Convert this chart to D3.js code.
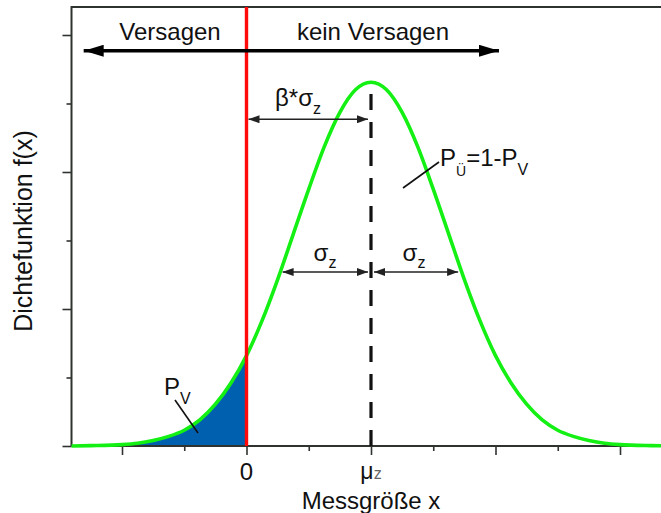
<!DOCTYPE html>
<html>
<head>
<meta charset="utf-8">
<script src="https://cdn.jsdelivr.net/npm/d3@7"></script>
<style>
  html, body { margin: 0; padding: 0; background: #fff; }
  svg { display: block; font-family: "Liberation Sans", Arial, sans-serif; }
</style>
</head>
<body>
<svg id="chart" width="661" height="513"></svg>
<script>
// Density curve f(x) sampled along the measured quantity x
const curveX = [-2.81, -2.5, -2, -1.75, -1.5, -1.25, -1, -0.75, -0.5, -0.25, 0,
  0.25, 0.5, 0.75, 1, 1.25, 1.5, 1.75, 2, 2.25, 2.5, 2.75, 3, 3.25, 3.5, 3.75,
  4, 4.25, 4.5, 4.75, 5, 5.25, 5.5, 5.75, 6, 6.5, 7];
const curveY = [0.00, 0.005, 0.02, 0.04, 0.08, 0.14, 0.23, 0.38, 0.61, 0.92, 1.32,
  1.83, 2.43, 3.09, 3.75, 4.37, 4.87, 5.20, 5.31, 5.20, 4.87, 4.37, 3.75, 3.09, 2.43, 1.83,
  1.32, 0.92, 0.61, 0.38, 0.23, 0.14, 0.08, 0.04, 0.02, 0.005, 0.00];

// Axis ticks
const xMajorTicks = [-2, 0, 2, 4, 6];
const xMinorTicks = [-1, 1, 3, 5];
const xTickLabels = { 0: "0", 2: "μ" };
const yMajorTicks = [0, 2, 4, 6];
const yMinorTicks = [1, 3, 5];

// Key quantities
const limitX = 0;        // failure limit
const muZ = 2;           // mean
const peakY = 5.31;      // f(μz)
const sigmaLeftX = 0.58; // ends of the σ arrows
const sigmaRightX = 3.40;
const sigmaArrowY = 2.54;
const betaArrowY = 4.77;
const regionArrowY = 5.77;
const regionArrowFrom = -2.68;
const regionArrowTo = 4.12;

const svg = d3.select("#chart");
const W = 661, H = 513;
const x = d3.scaleLinear().domain([-2, 6]).range([122, 620]);
const y = d3.scaleLinear().domain([0, 6]).range([446, 35]);
const x0 = x.invert(71.5), yTop = y.invert(7);

const frame = "#2f332f";

// arrowhead markers
const defs = svg.append("defs");
function marker(id, len, half, color) {
  defs.append("marker").attr("id", id)
    .attr("markerUnits", "userSpaceOnUse")
    .attr("viewBox", `0 ${-half} ${len} ${2 * half}`)
    .attr("refX", len).attr("refY", 0)
    .attr("markerWidth", len).attr("markerHeight", 2 * half)
    .attr("orient", "auto-start-reverse")
    .append("path").attr("d", `M0,${-half}L${len},0L0,${half}Z`).attr("fill", color);
}
marker("bigHead", 20, 6, "#000");
marker("smallHead", 11, 4, "#222");

// area under the curve left of the limit (failure probability)
const pts = curveX.map((d, i) => [d, curveY[i]]);
const leftPts = pts.filter(p => p[0] <= limitX);
svg.append("path")
  .datum(leftPts)
  .attr("fill", "#0060b0")
  .attr("d", d3.area().x(p => x(p[0])).y0(y(0)).y1(p => y(p[1])).curve(d3.curveMonotoneX));

// axes
const gx = svg.append("g").attr("transform", `translate(0,${y(0)})`);
gx.call(d3.axisBottom(x).tickValues(xMajorTicks).tickSize(9).tickFormat(() => ""));
gx.call(g => g.select(".domain").remove());
const gxm = svg.append("g").attr("transform", `translate(0,${y(0)})`)
  .call(d3.axisBottom(x).tickValues(xMinorTicks).tickSize(5).tickFormat(() => ""));
gxm.select(".domain").remove();
const gy = svg.append("g").attr("transform", `translate(71.5,0)`)
  .call(d3.axisLeft(y).tickValues(yMajorTicks).tickSize(9).tickFormat(() => ""));
gy.select(".domain").remove();
const gym = svg.append("g").attr("transform", `translate(71.5,0)`)
  .call(d3.axisLeft(y).tickValues(yMinorTicks).tickSize(5).tickFormat(() => ""));
gym.select(".domain").remove();
svg.selectAll(".tick line").attr("stroke", frame).attr("stroke-width", 1.6);

// frame
svg.append("path")
  .attr("d", `M${x(x0)},${y(0)}V${y(yTop)}H${W + 5}`)
  .attr("fill", "none").attr("stroke", frame).attr("stroke-width", 2);
svg.append("line")
  .attr("x1", x(x0)).attr("x2", W + 5).attr("y1", y(0)).attr("y2", y(0))
  .attr("stroke", frame).attr("stroke-width", 2);

// density curve
svg.append("path")
  .datum(pts)
  .attr("fill", "none").attr("stroke", "#14f014").attr("stroke-width", 3.6)
  .attr("d", d3.line().x(p => x(p[0])).y(p => y(p[1])).curve(d3.curveMonotoneX));

// limit line
svg.append("line")
  .attr("x1", x(limitX)).attr("x2", x(limitX)).attr("y1", y(yTop)).attr("y2", y(0))
  .attr("stroke", "#ff0a0a").attr("stroke-width", 3.4);

// mean line (dashed)
svg.append("line")
  .attr("x1", x(muZ)).attr("x2", x(muZ)).attr("y1", y(0)).attr("y2", y(peakY) + 3)
  .attr("stroke", "#111").attr("stroke-width", 3.2).attr("stroke-dasharray", "16,12");

// region arrow
svg.append("line")
  .attr("x1", x(regionArrowFrom) + 4).attr("x2", x(regionArrowTo) - 4)
  .attr("y1", y(regionArrowY)).attr("y2", y(regionArrowY))
  .attr("stroke", "#000").attr("stroke-width", 3.5)
  .attr("marker-start", "url(#bigHead)").attr("marker-end", "url(#bigHead)");

// dimension arrows
function dimArrow(xa, xb, yv) {
  svg.append("line")
    .attr("x1", xa).attr("x2", xb).attr("y1", y(yv)).attr("y2", y(yv))
    .attr("stroke", "#222").attr("stroke-width", 1.6)
    .attr("marker-start", "url(#smallHead)").attr("marker-end", "url(#smallHead)");
}
dimArrow(x(limitX) + 2, x(muZ) - 3, betaArrowY);
dimArrow(x(sigmaLeftX), x(muZ) - 3, sigmaArrowY);
dimArrow(x(muZ) + 3, x(sigmaRightX), sigmaArrowY);

// leader lines
svg.append("line").attr("x1", 403).attr("y1", 188).attr("x2", 439).attr("y2", 162)
  .attr("stroke", "#111").attr("stroke-width", 1.6);
svg.append("line").attr("x1", 175).attr("y1", 400).attr("x2", 198).attr("y2", 433)
  .attr("stroke", "#111").attr("stroke-width", 1.6);

// texts
const FS = 24;
function label(tx, ty, anchor) {
  return svg.append("text").attr("x", tx).attr("y", ty)
    .attr("text-anchor", anchor || "start").attr("font-size", FS).attr("fill", "#111");
}
label(170, 40, "middle").text("Versagen");
label(373, 40, "middle").text("kein Versagen");

let t = label(298, 106, "middle");
t.append("tspan").text("β*σ");
t.append("tspan").attr("font-size", 16).attr("dy", 8).text("z");

t = label(325, 261, "middle");
t.append("tspan").text("σ");
t.append("tspan").attr("font-size", 16).attr("dy", 7).text("z");
t = label(414, 261, "middle");
t.append("tspan").text("σ");
t.append("tspan").attr("font-size", 16).attr("dy", 7).text("z");

t = label(440, 166);
t.append("tspan").text("P");
t.append("tspan").attr("font-size", 14).attr("dy", 10).text("Ü");
t.append("tspan").attr("dy", -10).text("=1-P");
t.append("tspan").attr("font-size", 16).attr("dy", 9).text("V");

t = label(164, 395);
t.append("tspan").text("P");
t.append("tspan").attr("font-size", 16).attr("dy", 9).text("V");

// tick labels
label(x(0), 480, "middle").text(xTickLabels[0]);
t = label(x(2), 479, "middle").attr("font-size", 23);
t.append("tspan").text(xTickLabels[2]);
t.append("tspan").attr("font-size", 16).attr("fill", "#666").text("z");

// axis titles
label(x(2), 509, "middle").text("Messgröße x");
svg.append("text")
  .attr("transform", `translate(32,231) rotate(-90)`)
  .attr("text-anchor", "middle").attr("font-size", 25).attr("fill", "#111")
  .text("Dichtefunktion f(x)");
</script>
</body>
</html>
